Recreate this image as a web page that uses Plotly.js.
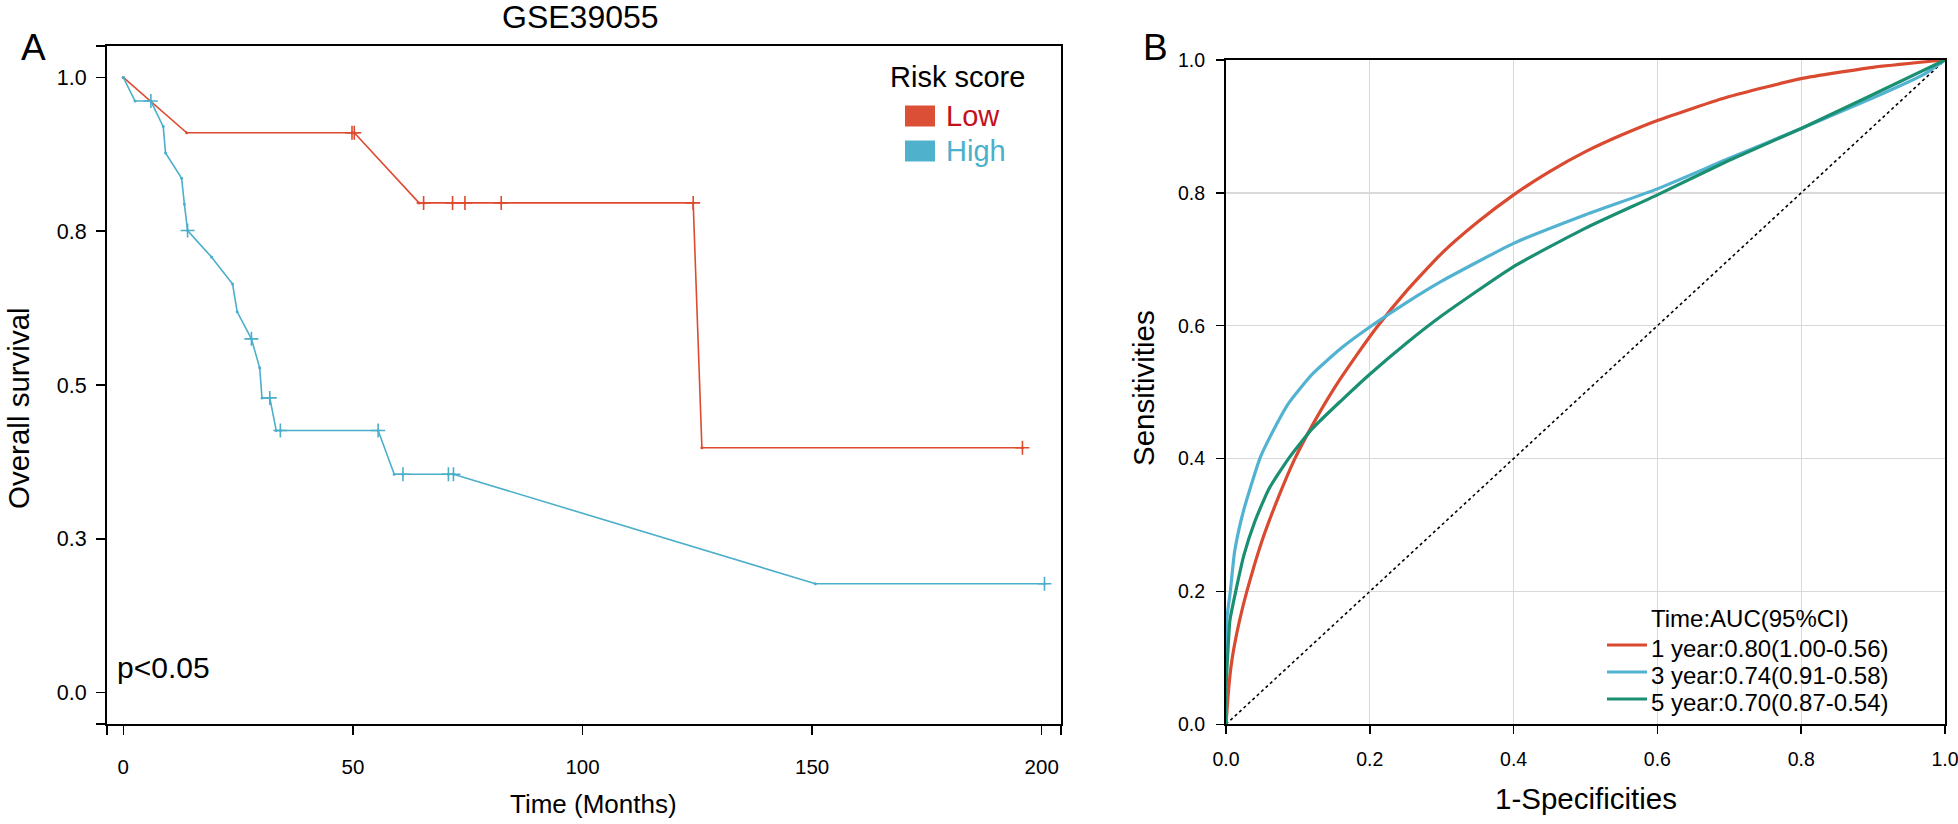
<!DOCTYPE html>
<html>
<head>
<meta charset="utf-8">
<script src="https://cdn.plot.ly/plotly-3.0.1.min.js"></script>
<style>html,body{margin:0;padding:0;background:#fff;}#chart{width:1958px;height:824px;}</style>
</head>
<body>
<div id="chart"></div>
<script>
// ---------- Panel A: Kaplan-Meier (GSE39055) ----------
const lowTime   = [0, 13.8, 49.8, 50.3, 64.4, 65.4, 71.7, 74.4, 82.3, 124.1, 126.0, 195.8];
const lowSurv   = [1, 0.910, 0.910, 0.910, 0.796, 0.796, 0.796, 0.796, 0.796, 0.796, 0.398, 0.398];
const lowCens   = [0, 0, 1, 1, 0, 1, 1, 1, 1, 1, 0, 1];

const highTime  = [0, 2.55, 6.0, 8.7, 9.2, 12.7, 13.3, 14.0, 19.2, 23.8, 24.8, 27.9, 29.7, 30.2, 31.9, 33.3, 34.2, 55.5, 59.0, 60.9, 70.8, 71.9, 150.7, 200.6];
const highSurv  = [1, 0.9615, 0.9615, 0.920, 0.877, 0.836, 0.794, 0.751, 0.708, 0.664, 0.619, 0.575, 0.528, 0.479, 0.479, 0.426, 0.426, 0.426, 0.355, 0.355, 0.355, 0.355, 0.177, 0.177];
const highCens  = [0, 0, 1, 0, 0, 0, 0, 1, 0, 0, 0, 1, 0, 0, 1, 0, 1, 1, 0, 1, 1, 1, 0, 1];

const kmGroups     = ['Low', 'High'];
const kmXTickVals  = [0, 50, 100, 150, 200];
const kmXTickText  = ['0', '50', '100', '150', '200'];
const kmYTickVals  = [0, 0.25, 0.5, 0.75, 1.0];
const kmYTickText  = ['0.0', '0.3', '0.5', '0.8', '1.0'];

// ---------- Panel B: time-dependent ROC ----------
const roc1Fpr = [0, 0.002, 0.004, 0.007, 0.011, 0.019, 0.029, 0.05, 0.07, 0.095, 0.12, 0.15, 0.18, 0.21, 0.25, 0.3, 0.35, 0.4, 0.45, 0.5, 0.55, 0.6, 0.7, 0.8, 0.9, 1.0];
const roc1Tpr = [0, 0.03, 0.057, 0.087, 0.115, 0.157, 0.2, 0.276, 0.334, 0.398, 0.45, 0.505, 0.553, 0.598, 0.651, 0.709, 0.756, 0.797, 0.832, 0.862, 0.887, 0.909, 0.945, 0.972, 0.989, 1.0];
const roc3Fpr = [0, 0, 0.001, 0.006, 0.012, 0.024, 0.047, 0.06, 0.087, 0.12, 0.16, 0.2, 0.25, 0.3, 0.4, 0.5, 0.6, 0.7, 0.8, 0.9, 0.97, 1.0];
const roc3Tpr = [0, 0.1, 0.157, 0.2, 0.26, 0.32, 0.4, 0.43, 0.483, 0.527, 0.566, 0.598, 0.634, 0.667, 0.724, 0.767, 0.806, 0.852, 0.897, 0.943, 0.978, 1.0];
const roc5Fpr = [0, 0, 0.0025, 0.0055, 0.0135, 0.025, 0.04, 0.06, 0.087, 0.12, 0.16, 0.2, 0.25, 0.3, 0.4, 0.5, 0.6, 0.7, 0.8, 0.9, 1.0];
const roc5Tpr = [0, 0.05, 0.107, 0.157, 0.2, 0.255, 0.305, 0.355, 0.40, 0.445, 0.487, 0.527, 0.573, 0.615, 0.689, 0.747, 0.797, 0.849, 0.897, 0.948, 1.0];
const rocLabels = ['1 year:0.80(1.00-0.56)', '3 year:0.74(0.91-0.58)', '5 year:0.70(0.87-0.54)'];
const rocTickVals = [0, 0.2, 0.4, 0.6, 0.8, 1.0];
const rocTickText = ['0.0', '0.2', '0.4', '0.6', '0.8', '1.0'];

// ---------- styling ----------
const W = 1958, H = 824;
const px = v => v / W;
const py = v => 1 - v / H;
const FONT = 'Liberation Sans, Arial, Helvetica, sans-serif';
const kmLineColors = ['#DE4A2E', '#4BAFCB'];
const kmSquareColors = ['#DC4F37', '#4FB1CB'];
const kmTextColors = ['#C4101C', '#4BB0CC'];
const rocColors = ['#DA4A30', '#52B2D1', '#1B8F72'];

const kmXRange = [-3.55, 204.2];
const kmYRange = [-0.051, 1.051];

function censorPts(t, s, c) {
  const xs = [], ys = [];
  for (let i = 0; i < t.length; i++) if (c[i]) { xs.push(t[i]); ys.push(s[i]); }
  return {xs, ys};
}

const traces = [];
[[lowTime, lowSurv, lowCens], [highTime, highSurv, highCens]].forEach((g, i) => {
  traces.push({
    type: 'scatter', mode: 'lines+markers', x: g[0], y: g[1], name: kmGroups[i],
    xaxis: 'x', yaxis: 'y', showlegend: false, hoverinfo: 'x+y',
    line: {color: kmLineColors[i], width: 1.6},
    marker: {color: kmLineColors[i], size: 3}
  });
  const cp = censorPts(g[0], g[1], g[2]);
  traces.push({
    type: 'scatter', mode: 'markers', x: cp.xs, y: cp.ys, name: kmGroups[i] + ' censored',
    xaxis: 'x', yaxis: 'y', showlegend: false, hoverinfo: 'x+y',
    marker: {symbol: 'cross-thin-open', size: 10, color: kmLineColors[i],
             line: {color: kmLineColors[i], width: 1.6}}
  });
});

traces.push({
  type: 'scatter', mode: 'lines', x: [0, 1], y: [0, 1], xaxis: 'x2', yaxis: 'y2',
  showlegend: false, hoverinfo: 'skip', line: {color: '#000', width: 1.6, dash: 'dot'}
});
[[roc1Fpr, roc1Tpr], [roc3Fpr, roc3Tpr], [roc5Fpr, roc5Tpr]].forEach((r, i) => {
  traces.push({
    type: 'scatter', mode: 'lines', x: r[0], y: r[1], name: rocLabels[i],
    xaxis: 'x2', yaxis: 'y2', showlegend: false,
    line: {color: rocColors[i], width: 3.2, shape: 'spline', smoothing: 0.5}
  });
});

const axisBase = {
  showline: true, linecolor: '#000', linewidth: 2, mirror: true,
  ticks: 'outside', tickcolor: '#000', tickwidth: 1.5,
  zeroline: false, fixedrange: true, ticklabeloverflow: 'allow'
};

const layout = {
  width: W, height: H,
  margin: {l: 0, r: 0, t: 0, b: 0},
  paper_bgcolor: '#fff', plot_bgcolor: '#fff',
  font: {family: FONT, color: '#000'},
  showlegend: false,
  xaxis: Object.assign({}, axisBase, {
    domain: [px(107), px(1061)], range: kmXRange, showgrid: false, ticklen: 9,
    tickvals: [kmXRange[0]].concat(kmXTickVals, [kmXRange[1]]),
    ticktext: [''].concat(kmXTickText, ['']),
    tickfont: {size: 20.5, family: FONT}, ticklabelstandoff: 14
  }),
  yaxis: Object.assign({}, axisBase, {
    domain: [py(724), py(46)], range: kmYRange, showgrid: false, ticklen: 9,
    tickvals: [kmYRange[0]].concat(kmYTickVals, [kmYRange[1]]),
    ticktext: [''].concat(kmYTickText, ['']),
    tickfont: {size: 21.5, family: FONT}, ticklabelstandoff: 5
  }),
  xaxis2: Object.assign({}, axisBase, {
    anchor: 'y2', domain: [px(1226), px(1945)], range: [0, 1], ticklen: 8,
    showgrid: true, gridcolor: '#d9d9d9', gridwidth: 1.3,
    tickvals: rocTickVals, ticktext: rocTickText,
    tickfont: {size: 19.5, family: FONT}, ticklabelstandoff: 8
  }),
  yaxis2: Object.assign({}, axisBase, {
    anchor: 'x2', domain: [py(724.3), py(60)], range: [0, 1], ticklen: 8,
    showgrid: true, gridcolor: '#d9d9d9', gridwidth: 1.3,
    tickvals: rocTickVals, ticktext: rocTickText,
    tickfont: {size: 19.5, family: FONT}, ticklabelstandoff: 7
  }),
  shapes: [],
  annotations: []
};

function ann(text, x, y, size, opts) {
  layout.annotations.push(Object.assign({
    text: text, x: px(x), y: py(y), xref: 'paper', yref: 'paper',
    showarrow: false, xanchor: 'center', yanchor: 'middle',
    font: {family: FONT, size: size, color: '#000'}
  }, opts || {}));
}

// Panel letters and titles
ann('A', 33, 47, 37);
ann('B', 1155, 47, 37);
ann('GSE39055', 580, 17, 32);
ann('Time (Months)', 593, 804, 26);
ann('Overall survival', 18, 408, 29.5, {textangle: -90});
ann('1-Specificities', 1586, 798, 29.5);
ann('Sensitivities', 1143, 388, 29.5, {textangle: -90});
ann('p<0.05', 115, 667, 30, {xanchor: 'left'});

// KM legend (manual, coloured labels)
ann('Risk score', 888, 77, 29, {xanchor: 'left'});
const kmLegY = [116, 151];
kmGroups.forEach((g, i) => {
  layout.shapes.push({
    type: 'rect', xref: 'paper', yref: 'paper',
    x0: px(905), x1: px(935), y0: py(kmLegY[i] + 10.5), y1: py(kmLegY[i] - 10.5),
    fillcolor: kmSquareColors[i], line: {width: 0}
  });
  ann(g, 944, kmLegY[i], 29, {xanchor: 'left', font: {family: FONT, size: 29, color: kmTextColors[i]}});
});

// ROC legend (manual)
ann('Time:AUC(95%CI)', 1649, 618, 24, {xanchor: 'left'});
const rocLegY = [648, 675, 702];
rocLabels.forEach((lab, i) => {
  layout.shapes.push({
    type: 'line', xref: 'paper', yref: 'paper',
    x0: px(1607), x1: px(1647), y0: py(rocLegY[i] - 3), y1: py(rocLegY[i] - 3),
    line: {color: rocColors[i], width: 3.2}
  });
  ann(lab, 1649, rocLegY[i], 24, {xanchor: 'left'});
});

Plotly.newPlot('chart', traces, layout, {displayModeBar: false, staticPlot: true});
</script>
</body>
</html>
